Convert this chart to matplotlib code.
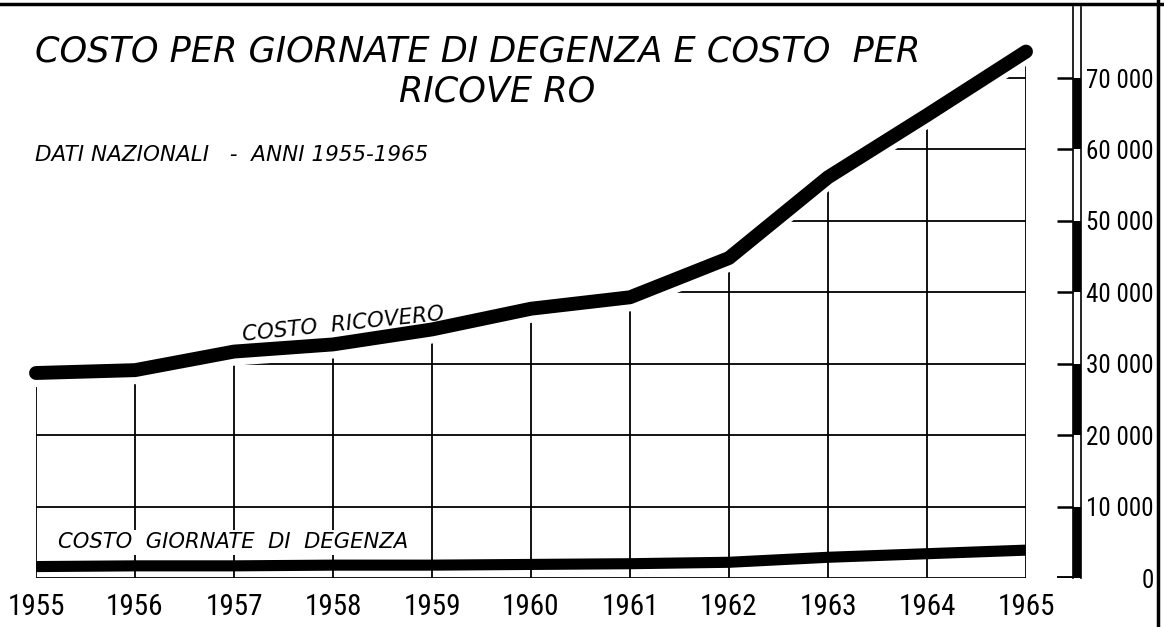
import numpy as np
import matplotlib.pyplot as plt
from matplotlib import font_manager

# Dati nazionali 1955-1965 (lire)
anni = np.arange(1955, 1966)
costo_ricovero = [28700, 29100, 31700, 32700, 34800, 37700, 39300, 44800, 56100, 64800, 73700]
costo_degenza = [1600, 1700, 1700, 1800, 1800, 1900, 2000, 2200, 2900, 3400, 3900]
livelli = [0, 10000, 20000, 30000, 40000, 50000, 60000, 70000]
etichette = ['0', '10 000', '20 000', '30 000', '40 000', '50 000', '60 000', '70 000']

W, H = 1164, 627

# a narrow face for the numbers if one is there, else plain DejaVu a bit smaller
installed = {f.name for f in font_manager.fontManager.ttflist}
narrow = None
for name in ['Liberation Sans Narrow', 'DejaVu Sans Condensed', 'Roboto Condensed']:
    if name in installed:
        narrow = name
        break
if narrow:
    num_font, year_size, lab_size = [narrow, 'DejaVu Sans'], 21, 18
else:
    num_font, year_size, lab_size = ['DejaVu Sans'], 15, 14

fig = plt.figure(figsize=(W / 100, H / 100), dpi=100)
fig.patch.set_facecolor('white')

# main plot area (pixel geometry of the original)
x0, x1 = 36, 1026
y0, ytop = 578, 6.6
ax = fig.add_axes([x0 / W, (H - y0) / H, (x1 - x0) / W, (y0 - ytop) / H])
ax.set_xlim(1955, 1965)
ax.set_ylim(0, 70000 * (y0 - ytop) / (y0 - 78))
ax.axis('off')

# grid, hidden above the curve
for a in anni:
    ax.plot([a, a], [0, 80000], color='black', lw=1.3, zorder=1)
for v in livelli[1:]:
    ax.plot([1955, 1965], [v, v], color='black', lw=1.3, zorder=1)
ax.fill_between(anni, np.array(costo_ricovero) - 1800, 80000, color='white', zorder=2)
ax.plot([1955, 1965], [0, 0], color='black', lw=2, zorder=3)

ax.plot(anni, costo_ricovero, color='black', lw=10, solid_capstyle='round',
        solid_joinstyle='round', zorder=4, clip_on=False)
ax.plot(anni, costo_degenza, color='black', lw=8, solid_capstyle='butt', zorder=4)

ax.text(1958.1, 35500, 'COSTO  RICOVERO', rotation=6, ha='center', va='center',
        style='italic', fontsize=15.5, zorder=5)
ax.text(1955.22, 5000, 'COSTO  GIORNATE  DI  DEGENZA', ha='left', va='center',
        style='italic', fontsize=15.2, zorder=5,
        bbox=dict(facecolor='white', edgecolor='none', pad=2))

for a in anni:
    ax.text(a, -4100, str(a), ha='center', va='center', fontsize=year_size,
            family=num_font, clip_on=False)

# scale bar on the right
ax2 = fig.add_axes([1057 / W, (H - y0) / H, (1081 - 1057) / W, (y0 - ytop) / H])
ax2.set_xlim(0, 1)
ax2.set_ylim(ax.get_ylim())
ax2.patch.set_alpha(0)
for s in ax2.spines.values():
    s.set_visible(False)
ax2.tick_params(axis='x', bottom=False, labelbottom=False)
for i in range(len(livelli) - 1):
    ax2.bar(0.83, livelli[i + 1] - livelli[i], bottom=livelli[i], width=0.34,
            color='black' if i % 2 == 0 else 'white', edgecolor='none', zorder=1)
ax2.plot([0.66, 0.66], [0, 80000], color='black', lw=1.2, clip_on=False, zorder=2)
ax2.plot([1.0, 1.0], [0, 80000], color='black', lw=1.2, clip_on=False, zorder=2)
ax2.hlines(livelli[1:], 0, 0.66, color='black', lw=1.8, zorder=2)
ax2.plot([0, 1.0], [0, 0], color='black', lw=3.5, zorder=2)
ax2.set_yticks(livelli, labels=etichette, ha='right')
ax2.tick_params(axis='y', left=False, labelleft=False, right=False, labelright=True,
                pad=49, labelsize=lab_size)
for t in ax2.get_yticklabels():
    t.set_family(num_font)

# titles
fig.text(35 / W, 1 - 52 / H, 'COSTO PER GIORNATE DI DEGENZA E COSTO  PER',
         style='italic', fontsize=25.3, ha='left', va='center')
fig.text(497 / W, 1 - 92 / H, 'RICOVE RO', style='italic', fontsize=25.3,
         ha='center', va='center')
fig.text(35 / W, 1 - 155 / H, 'DATI NAZIONALI   -  ANNI 1955-1965',
         style='italic', fontsize=15.5, ha='left', va='center')

# frame of the original sheet
fig.add_artist(plt.Line2D([0, 1], [1 - 4 / H, 1 - 4 / H], color='black', lw=2.5))
fig.add_artist(plt.Line2D([1158 / W, 1158 / W], [0, 1], color='black', lw=2.5))

fig.savefig('out.png', dpi=100, facecolor='white')
